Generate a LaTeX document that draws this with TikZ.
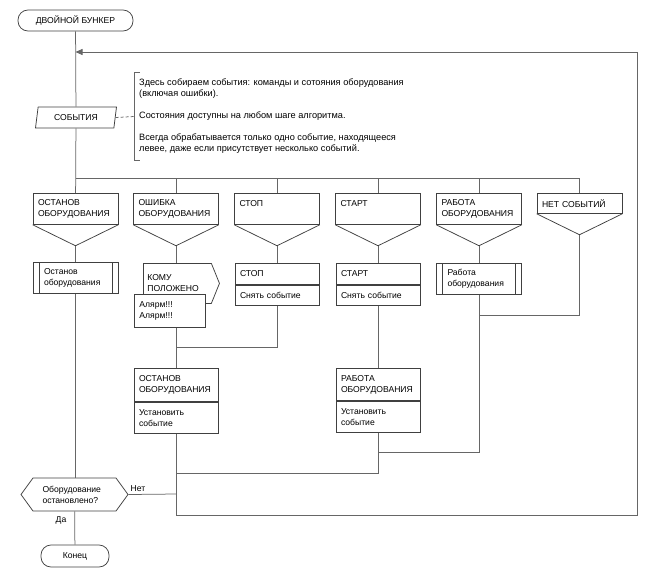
\documentclass[tikz,border=0pt]{standalone}
\usepackage{fontspec}
\setmainfont{Liberation Sans}
\usetikzlibrary{shapes.geometric,shapes.symbols,arrows.meta}

\tikzset{
  every node/.style={font=\fontsize{8.6}{11}\selectfont},
  shp/.style={draw=black!75, line width=0.75pt},
  conn/.style={draw=black!60, line width=0.75pt},
  term/.style={shp, rounded corners=10pt, minimum width=#1, minimum height=21, inner sep=0pt},
  casebox/.style={shp, anchor=north, minimum width=85, minimum height=31, text width=75, inner xsep=5, align=left},
  predef/.style={shp, anchor=north, minimum width=85, minimum height=31, text width=63, inner xsep=11, align=left,
    path picture={\draw[black!75, line width=0.75pt]
      ([xshift=6pt]path picture bounding box.north west) -- ([xshift=6pt]path picture bounding box.south west)
      ([xshift=-6pt]path picture bounding box.north east) -- ([xshift=-6pt]path picture bounding box.south east);}},
  part/.style={shp, anchor=north, minimum width=84, text width=74, inner xsep=5, align=left},
}

\begin{document}
\begin{tikzpicture}[x=1pt, y=-1pt]
\useasboundingbox (0,0) rectangle (655,574);

% начало, события и комментарий
\node[term=115] (start) at (75.5,20.5) {ДВОЙНОЙ БУНКЕР};
\node[shp, trapezium, trapezium left angle=72, trapezium right angle=108, trapezium stretches body,
  minimum width=81, minimum height=21, inner sep=1pt] (ev) at (76,117.5) {СОБЫТИЯ};
\node[anchor=west, minimum height=87, align=left, inner xsep=5, font=\fontsize{9.2}{11}\selectfont] (cm) at (134,116.5)
  {Здесь собираем события: команды  и сотояния оборудования\\(включая ошибки).\\[11pt]
   Состояния доступны на любом шаге алгоритма.\\[11pt]
   Всегда обрабатывается только одно событие, находящееся\\левее, даже если присутствует несколько событий.};
\draw[conn] ([xshift=6pt]cm.north west) -- (cm.north west) -- (cm.south west) -- ([xshift=6pt]cm.south west);
\draw[conn, dash pattern=on 3pt off 2pt] (ev.east) -- (cm.west);

% варианты
\node[casebox] (c1) at (75.5,193) {ОСТАНОВ\\ОБОРУДОВАНИЯ};
\node[casebox] (c2) at (176,193) {ОШИБКА\\ОБОРУДОВАНИЯ};
\node[casebox] (c3) at (277,193) {СТОП\\~};
\node[casebox] (c4) at (378,193) {СТАРТ\\~};
\node[casebox] (c5) at (479,193) {РАБОТА\\ОБОРУДОВАНИЯ};
\node[casebox, minimum height=20] (c6) at (579.5,193) {НЕТ СОБЫТИЙ};
\foreach \c in {c1,c2,c3,c4,c5,c6}
  \draw[shp] (\c.south west) -- ([yshift=-21pt]\c.south) coordinate (\c tip) -- (\c.south east);

% действия
\node[predef] (p1) at (75.5,262) {Останов\\оборудования};
\node[shp, signal, signal to=east, signal pointer angle=136, anchor=north west, minimum width=75,
  minimum height=40, text width=60, inner xsep=4, align=left] (k2) at (143,263) {КОМУ\\ПОЛОЖЕНО};
\node[shp, fill=white, anchor=north west, minimum width=71, minimum height=33, text width=61,
  inner xsep=5, align=left] (a2) at (134,294) {Алярм!!!\\Алярм!!!};
\node[part, minimum height=21] (s3) at (277,263) {СТОП};
\node[part, minimum height=20] (s3b) at (s3.south) {Снять событие};
\node[part, minimum height=21] (s4) at (378,263) {СТАРТ};
\node[part, minimum height=20] (s4b) at (s4.south) {Снять событие};
\node[predef] (p5) at (479,263) {Работа\\оборудования};

\node[part, minimum height=33] (o2) at (176,368) {ОСТАНОВ\\ОБОРУДОВАНИЯ};
\node[part, minimum height=31] (o2b) at (o2.south) {Установить\\событие};
\node[part, minimum height=32] (r4) at (378,368) {РАБОТА\\ОБОРУДОВАНИЯ};
\node[part, minimum height=31] (r4b) at (r4.south) {Установить\\событие};

\node[shp, signal, signal to=west and east, signal pointer angle=108, minimum width=107,
  minimum height=33, text width=64, inner xsep=2, align=left] (hx) at (74.5,494.5) {Оборудование\\остановлено?};
\node[term=68, minimum height=22] (fin) at (75,556) {Конец};

% соединения
\coordinate (bl) at (75.5,178);
\coordinate (br) at (579.5,178);
\coordinate (j1) at (176,347);
\coordinate (j5) at (479,452);
\coordinate (j6) at (579.5,315);
\coordinate (j4) at (378,473);
\coordinate (lb) at (176,515);
\coordinate (lr) at (637,515);
\coordinate (lt) at (637,52);
\coordinate (ln) at (176,494);

\draw[conn] (start) -- (ev);
\draw[conn] (ev) -- (c1);
\draw[conn] (bl) -- (br);
\foreach \c in {c2,c3,c4,c5,c6}
  \draw[conn] (\c.north |- bl) -- (\c.north);
\draw[conn] (c1tip) -- (p1);
\draw[conn] (p1) -- (p1.south |- hx.north);
\draw[conn] (c2tip) -- (c2tip |- k2.north);
\draw[conn] (a2.south -| j1) -- (j1) -- (j1 -| s3b.south) -- (s3b.south);
\draw[conn] (j1) -- (o2);
\draw[conn] (c3tip) -- (s3);
\draw[conn] (c4tip) -- (s4);
\draw[conn] (s4b) -- (r4);
\draw[conn] (c5tip) -- (p5);
\draw[conn] (p5) -- (j5) -- (j5 -| r4b.south);
\draw[conn] (c6tip) -- (j6) -- (j6 -| p5.south);
\draw[conn] (r4b) -- (j4) -- (j4 -| o2b.south);
\draw[conn, -{Triangle[length=7pt,width=6pt]}] (o2b) -- (lb) -- (lr) -- (lt) -- (lt -| start.south);
\draw[conn] (hx.east) -- node[pos=0.2, above, inner sep=2pt] {Нет} (ln);
\draw[conn] (hx) -- (fin);
\node (da) at (61,520) {Да};
\end{tikzpicture}
\end{document}
